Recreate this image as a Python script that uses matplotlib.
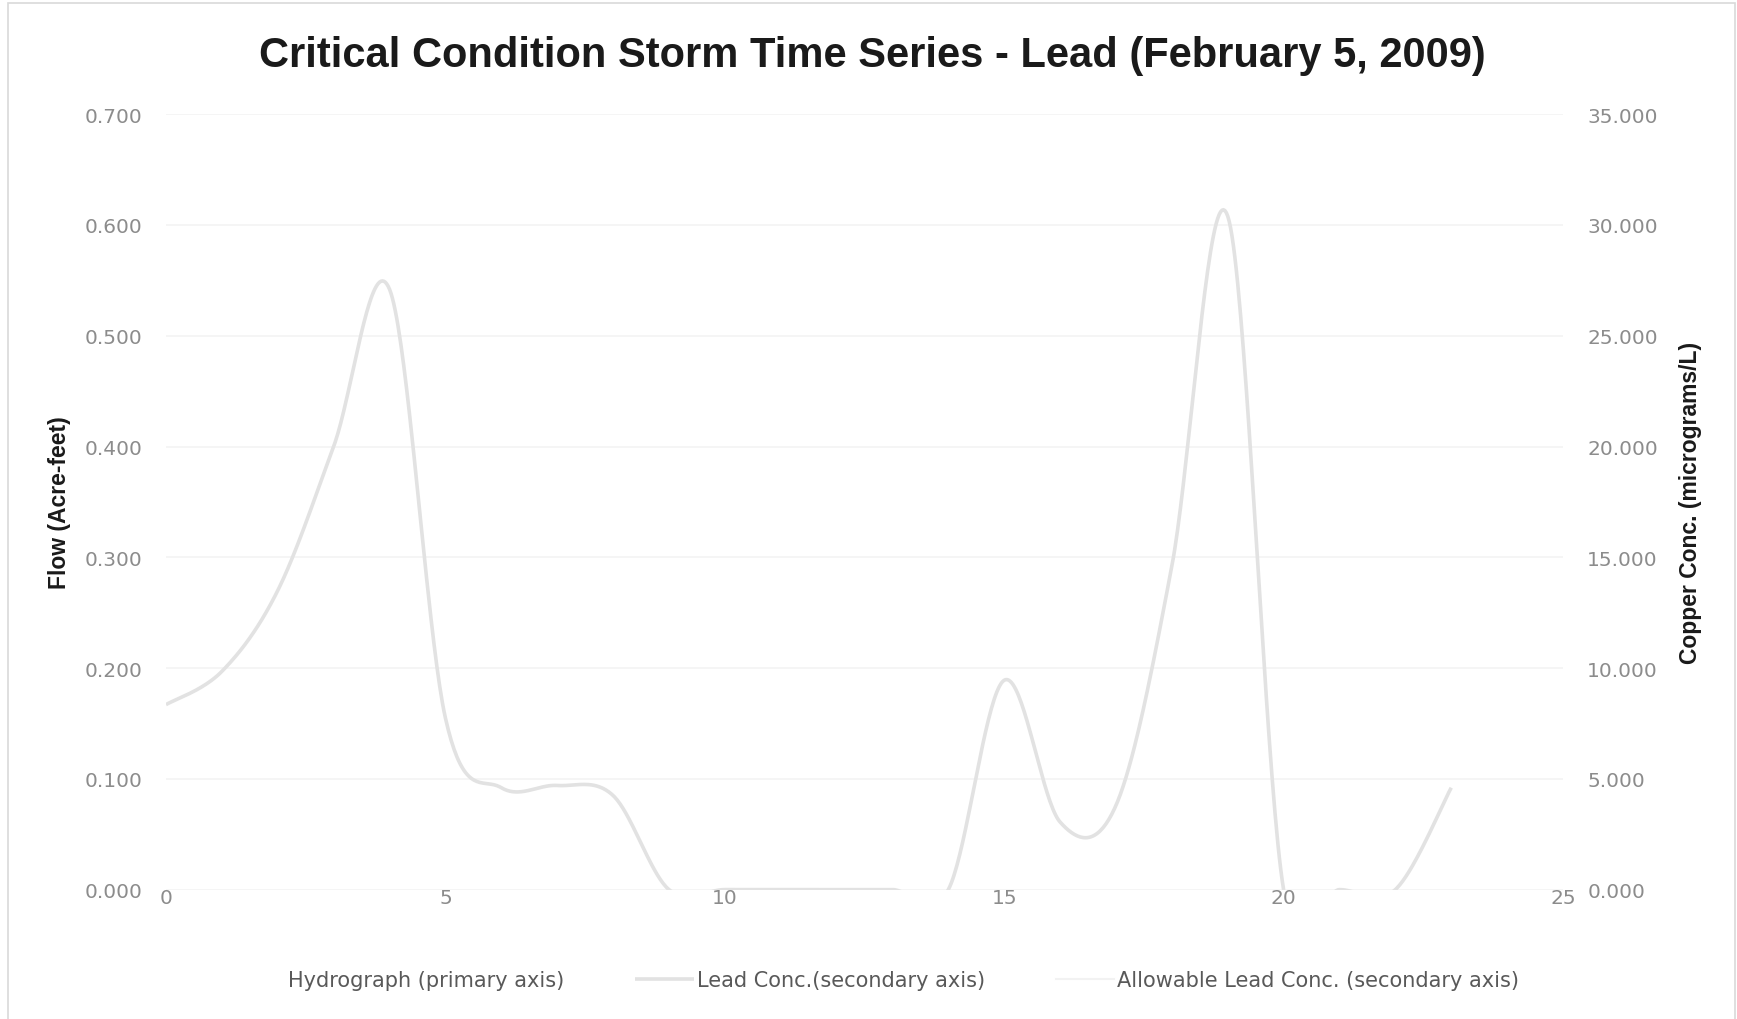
import numpy as np
import matplotlib
matplotlib.use("Agg")
import matplotlib.pyplot as plt
from matplotlib.lines import Line2D
from matplotlib.patches import Rectangle

# Hourly time steps of the storm
hours = list(range(24))

# Lead concentration (micrograms/L), plotted on the secondary axis
lead_conc = [8.35, 9.85, 13.5, 20.0, 27.1, 7.75, 4.6, 4.7, 4.25, 0.0,
             0.0, 0.0, 0.0, 0.0, 0.0, 9.45, 3.05, 3.8, 14.6, 30.4,
             0.0, 0.0, 0.0, 4.6]

title = "Critical Condition Storm Time Series - Lead (February 5, 2009)"
left_label = "Flow (Acre-feet)"
right_label = "Copper Conc. (micrograms/L)"
legend_labels = ["Hydrograph (primary axis)",
                 "Lead Conc.(secondary axis)",
                 "Allowable Lead Conc. (secondary axis)"]
x_ticks = [0, 5, 10, 15, 20, 25]
flow_ticks = [0.0, 0.1, 0.2, 0.3, 0.4, 0.5, 0.6, 0.7]
conc_ticks = [0, 5, 10, 15, 20, 25, 30, 35]


def smooth_curve(xs, ys, steps=40):
    """Bezier smoothing through every point (spreadsheet-style smoothed line)."""
    xs = np.asarray(xs, float)
    ys = np.asarray(ys, float)
    n = len(xs)
    out_x, out_y = [], []
    for i in range(n - 1):
        p0 = np.array([xs[i], ys[i]])
        p3 = np.array([xs[i + 1], ys[i + 1]])
        pm = np.array([xs[max(i - 1, 0)], ys[max(i - 1, 0)]])
        pp = np.array([xs[min(i + 2, n - 1)], ys[min(i + 2, n - 1)]])
        c1 = p0 + (p3 - pm) / 6.0
        c2 = p3 - (pp - p0) / 6.0
        t = np.linspace(0, 1, steps)[:, None]
        seg = ((1 - t) ** 3) * p0 + 3 * ((1 - t) ** 2) * t * c1 \
            + 3 * (1 - t) * t ** 2 * c2 + t ** 3 * p3
        if i > 0:
            seg = seg[1:]
        out_x.extend(seg[:, 0])
        out_y.extend(seg[:, 1])
    return np.array(out_x), np.array(out_y)


W, H = 1737, 1020
fig = plt.figure(figsize=(W / 100, H / 100), dpi=100)
fig.patch.set_facecolor("white")

# chart-area border
fig.add_artist(Rectangle((8 / W, -0.01), (1735 - 8) / W, 1.01 - 4 / H,
                         transform=fig.transFigure, fill=False,
                         edgecolor="#d9d9d9", linewidth=1.2))

ax = fig.add_axes([166 / W, 1 - 890.6 / H, 1397 / W, (890.6 - 115.2) / H])
ax2 = ax.twinx()

tick_font = dict(family=["DejaVu Sans"], size=14.5, color="#8c8c8c")
head = ["Liberation Sans", "DejaVu Sans"]

ax.set_xlim(0, 25)
ax.set_ylim(0, 0.7)
ax2.set_ylim(0, 35)
ax.set_xticks(x_ticks)
ax.set_yticks(flow_ticks)
ax2.set_yticks(conc_ticks)
ax.set_xticklabels([str(v) for v in x_ticks], **tick_font)
ax.set_yticklabels([f"{v:.3f}" for v in flow_ticks], **tick_font)
ax2.set_yticklabels([f"{v:.3f}" for v in conc_ticks], **tick_font)
for a in (ax, ax2):
    for s in a.spines.values():
        s.set_visible(False)
    a.tick_params(length=0)
ax.tick_params(axis="y", pad=17)
ax.tick_params(axis="x", pad=-1)
ax2.tick_params(axis="y", pad=17.5)
ax.grid(axis="y", color="#f3f3f3", linewidth=1.2)
ax.set_axisbelow(True)

sx, sy = smooth_curve(hours, lead_conc)
lead_line, = ax2.plot(sx, sy, color="#e2e2e2", linewidth=2.6,
                      solid_capstyle="butt", solid_joinstyle="round")

ax.set_ylabel(left_label, family=head, fontweight="bold", size=16.5,
              color="#1a1a1a")
ax2.set_ylabel(right_label, family=head, fontweight="bold", size=16.5,
               color="#1a1a1a")
ax.yaxis.set_label_coords((71 - 166) / 1397, 0.5)
ax2.yaxis.set_label_coords((1679 - 166) / 1397, 0.5)

fig.text(872 / W, 1 - 56 / H, title, family=head, fontweight="bold",
         size=30, color="#1a1a1a", ha="center", va="center")

handles = [Line2D([], [], color="white", linewidth=2.6),
           lead_line,
           Line2D([], [], color="#f2f2f2", linewidth=1.5)]
fig.legend(handles, legend_labels, loc="center", ncol=3,
           bbox_to_anchor=(873 / W, 1 - 981.5 / H), frameon=False,
           prop=dict(family=["DejaVu Sans"], size=15), labelcolor="#595959",
           handlelength=2.8, handletextpad=0.15, columnspacing=3.4)

fig.savefig("out.png", dpi=100, facecolor="white")
